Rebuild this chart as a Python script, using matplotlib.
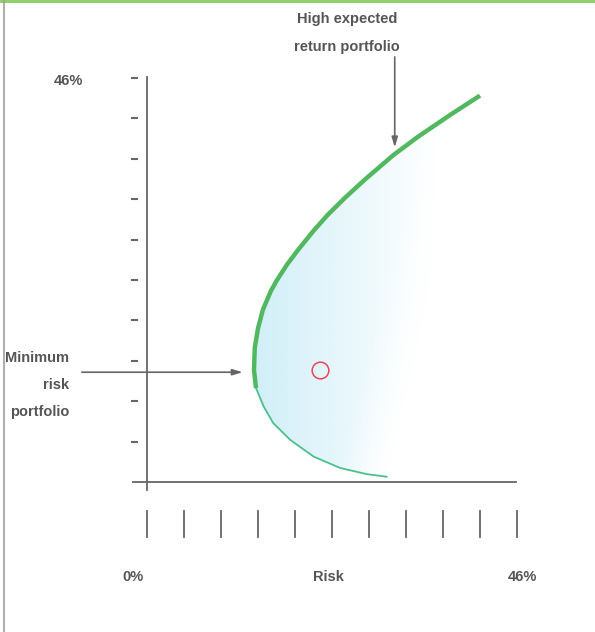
import numpy as np
import matplotlib.pyplot as plt
from matplotlib.patches import Polygon, Rectangle
from matplotlib.lines import Line2D

# Efficient frontier (risk %, expected return %)
frontier_risk = [41.4, 37.7, 33.6, 30.6, 27.1, 24.6, 22.5, 20.7, 18.8, 17.4,
                 16.1, 15.4, 14.4, 13.8, 13.4, 13.3, 13.55]
frontier_ret = [44.0, 41.8, 39.25, 37.2, 34.45, 32.35, 30.45, 28.6, 26.45, 24.75,
                22.9, 21.75, 19.6, 17.5, 15.3, 12.75, 10.7]
# Lower (inefficient) branch
lower_risk = [13.55, 14.5, 15.7, 17.8, 20.7, 24.0, 27.3, 29.8]
lower_ret = [10.7, 8.6, 6.7, 4.8, 2.9, 1.6, 0.9, 0.6]

single_asset = (21.5, 12.7)
axis_max = 46
n_ticks = 10
tick_step = axis_max / n_ticks

gray = '#666666'
txt = '#555555'
font = ['Liberation Sans', 'DejaVu Sans']
fs = 10.5

fig = plt.figure(figsize=(5.95, 6.32), dpi=100)
fig.patch.set_facecolor('white')
ax = fig.add_axes([147 / 595, 150 / 632, 370 / 595, 404 / 632])
ax.set_xlim(0, axis_max)
ax.set_ylim(0, axis_max)
ax.axis('off')

# frame: top green band, left gray edge
fig.add_artist(Rectangle((0, 1 - 3 / 632), 1, 3 / 632, transform=fig.transFigure,
                         color='#8fd16a', lw=0))
fig.add_artist(Line2D([4 / 595, 4 / 595], [0, 1], transform=fig.transFigure,
                      color='#a0a0a0', lw=1.2))

# shaded feasible region, fading to the right
poly_x = frontier_risk + lower_risk[1:]
poly_y = frontier_ret + lower_ret[1:]
region = Polygon(np.column_stack([poly_x, poly_y]), closed=True,
                 facecolor='none', edgecolor='none')
ax.add_patch(region)
x0, x1 = min(poly_x), max(poly_x)
gx, gy = np.meshgrid(np.linspace(x0, x1, 300), np.linspace(0, axis_max, 300))
# closing edge between the two open ends of the curve
edge_x = lower_risk[-1] + (gy - lower_ret[-1]) * (frontier_risk[0] - lower_risk[-1]) \
    / (frontier_ret[0] - lower_ret[-1])
fade = np.clip(1 - (gx - x0) / (0.8 * (x1 - x0)), 0, 1) * np.clip((edge_x - gx) / 6, 0, 1)
rgba = np.zeros(gx.shape + (4,))
rgba[..., 0] = 0.80
rgba[..., 1] = 0.93
rgba[..., 2] = 0.97
rgba[..., 3] = 0.9 * fade
im = ax.imshow(rgba, extent=[x0, x1, 0, axis_max],
               aspect='auto', origin='lower', zorder=1)
im.set_clip_path(region)

# curves
ax.plot(lower_risk, lower_ret, color='#4cc08a', lw=1.3, zorder=3,
        solid_joinstyle='round')
ax.plot(frontier_risk, frontier_ret, color='#52b85f', lw=3.2, zorder=4,
        solid_capstyle='butt', solid_joinstyle='round')

# single asset marker
ax.plot(*single_asset, 'o', mfc='none', mec='#ee4455', mew=1.1, ms=12, zorder=5)

# axes lines
ax.plot([0, 0], [-0.9, 46.1], color=gray, lw=1.3, clip_on=False)
ax.plot([-1.75, 45.9], [0, 0], color=gray, lw=1.3, clip_on=False)
for i in range(1, n_ticks + 1):
    ax.plot([-1.86, -1.24], [i * tick_step] * 2, color=gray, lw=1.5, clip_on=False)
for i in range(n_ticks + 1):
    ax.plot([i * tick_step] * 2, [-3.3, -6.26], color=gray, lw=1.3, clip_on=False)

# labels
ax.text(-7.9, 45.7, f'{axis_max}%', ha='right', va='center', fontsize=fs,
        fontweight='bold', color=txt, family=font, clip_on=False)
ax.text(-1.7, -10.8, '0%', ha='center', va='center', fontsize=fs,
        fontweight='bold', color=txt, family=font, clip_on=False)
ax.text(22.6, -10.8, 'Risk', ha='center', va='center', fontsize=fs,
        fontweight='bold', color=txt, family=font, clip_on=False)
ax.text(46.7, -10.8, f'{axis_max}%', ha='center', va='center', fontsize=fs,
        fontweight='bold', color=txt, family=font, clip_on=False)

for s, yy in [('Minimum', 358), ('risk', 385), ('portfolio', 412)]:
    fig.text(69 / 595, 1 - yy / 632, s, ha='right', va='center', fontsize=fs,
             fontweight='bold', color=txt, family=font)
for s, yy in [('High expected', 19), ('return portfolio', 47)]:
    fig.text(347 / 595, 1 - yy / 632, s, ha='center', va='center', fontsize=fs,
             fontweight='bold', color=txt, family=font)

# arrows
arrow = dict(arrowstyle='-|>,head_length=0.6,head_width=0.18', color=gray,
             lw=1.2, shrinkA=0, shrinkB=0)
ax.annotate('', xy=(30.8, 38.1), xytext=(30.8, 48.4), arrowprops=arrow,
            annotation_clip=False)
ax.annotate('', xy=(11.9, 12.5), xytext=(-8.1, 12.5), arrowprops=arrow,
            annotation_clip=False)

fig.savefig('out.png', dpi=100)
